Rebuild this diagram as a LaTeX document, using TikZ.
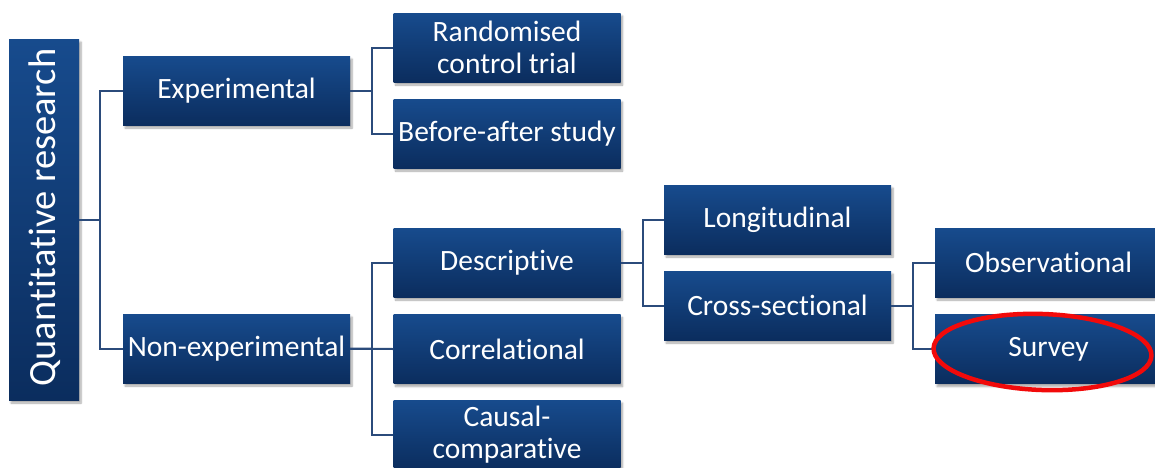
\documentclass[tikz,border=0pt]{standalone}
\usepackage{fontspec}
\setmainfont{Carlito}[Ligatures={NoCommon}]
\usetikzlibrary{shadows.blur,calc}
\definecolor{boxtop}{HTML}{174B8D}
\definecolor{boxbot}{HTML}{0B2D5E}
\definecolor{linkc}{HTML}{2B4B7B}
\definecolor{ringred}{HTML}{F20A0A}
\tikzset{
  box/.style={rectangle, minimum width=227pt, minimum height=69pt, inner sep=0pt,
    top color=boxtop, bottom color=boxbot, draw=none, text=white, align=center,
    font=\fontsize{29.5}{32}\selectfont,
    blur shadow={shadow xshift=2pt, shadow yshift=-3pt, shadow blur steps=6, shadow opacity=35}},
  link/.style={draw=linkc, line width=2pt},
}
\begin{document}
\begin{tikzpicture}[x=1pt,y=-1pt]
  \useasboundingbox (0,0) rectangle (1155,467);

  % root: tall box with rotated title
  \node[box, minimum width=70pt, minimum height=361pt] (Q) at (44,219.5) {};
  \node[text=white, font=\fontsize{38.5}{40}\selectfont, rotate=90, inner sep=0pt] (Qt) at ($(Q.center)+(1,-2)$) {Quantitative research};

  % second level
  \node[box] (E) at (236.5,90.5) {Experimental};
  \node[box] (N) at (236.5,348.5) {Non-experimental};

  % third level
  \node[box] (R)  at (507,47.5)  {Randomised\\control trial};
  \node[box] (B)  at (507,133.5) {Before-after study};
  \node[box] (D)  at (507,262.5) {Descriptive};
  \node[box] (C)  at (507,349)   {Correlational};
  \node[box] (CC) at (507,434.5) {Causal-\\comparative};

  % fourth level
  \node[box] (L) at (777.5,219.5) {Longitudinal};
  \node[box] (X) at (777.5,305.5) {Cross-sectional};

  % fifth level
  \node[box] (O) at (1048.5,262.5) {Observational};
  \node[box] (S) at (1048.5,349)   {Survey};

  % elbow connectors
  \draw[link] (Q.east) -- ++(21,0) |- (E.west);
  \draw[link] (Q.east) -- ++(21,0) |- (N.west);
  \draw[link] (E.east) -- ++(22,0) |- (R.west);
  \draw[link] (E.east) -- ++(22,0) |- (B.west);
  \draw[link] (N.east) -- ++(22,0) |- (D.west);
  \draw[link] (N.east) -- (C.west);
  \draw[link] (N.east) -- ++(22,0) |- (CC.west);
  \draw[link] (D.east) -- ++(22,0) |- (L.west);
  \draw[link] (D.east) -- ++(22,0) |- (X.west);
  \draw[link] (X.east) -- ++(22,0) |- (O.west);
  \draw[link] (X.east) -- ++(22,0) |- (S.west);

  % highlight ring
  \draw[ringred, line width=4.5pt] (S.center) ++(-6,3) ellipse [x radius=109, y radius=38, rotate=-2];
\end{tikzpicture}
\end{document}
